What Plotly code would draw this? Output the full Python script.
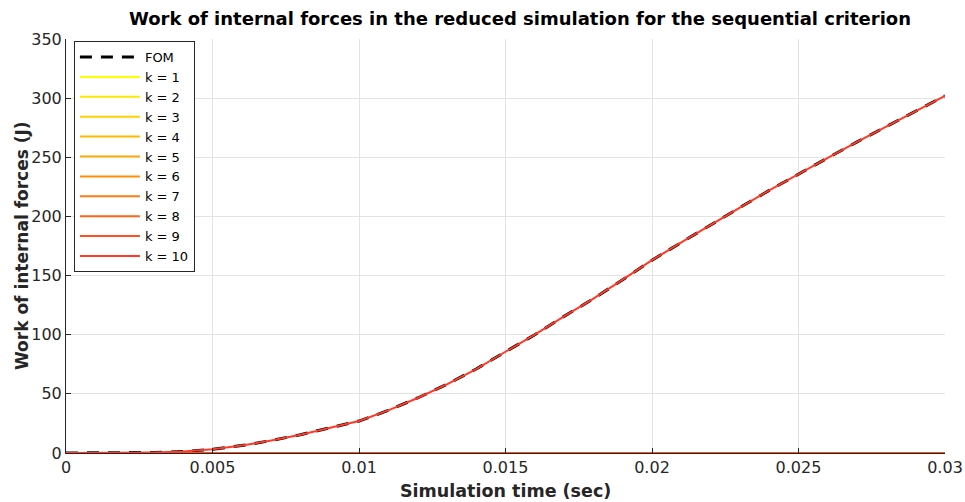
import plotly.graph_objects as go

# ---- data ----
time_s = [0.0, 0.001, 0.002, 0.003, 0.004, 0.005, 0.006, 0.007, 0.008, 0.009,
          0.010, 0.011, 0.012, 0.013, 0.014, 0.015, 0.016, 0.017, 0.018, 0.019,
          0.020, 0.021, 0.022, 0.023, 0.024, 0.025, 0.026, 0.027, 0.028, 0.029, 0.030]
fom_work = [0.0, 0.0, 0.1, 0.5, 1.2, 3.2, 6.3, 10.5, 15.5, 21.0,
            27.0, 36.0, 46.5, 58.0, 71.0, 85.6, 100.0, 115.5, 130.5, 146.5,
            163.0, 178.0, 193.0, 207.5, 222.0, 236.0, 249.5, 263.0, 276.0, 289.0, 302.0]

flat_time = [0.0, 0.03]
k1_work = [0.0, 0.0]
k2_work = [0.0, 0.0]
k3_work = [0.0, 0.0]
k4_work = [0.0, 0.0]
k5_work = [0.0, 0.0]
k6_work = [0.0, 0.0]
k7_work = [0.0, 0.0]
k8_work = [0.0, 0.0]
k9_work = [0.0, 0.0]
k10_work = [0.0, 0.0, 0.1, 0.5, 1.2, 3.2, 6.3, 10.5, 15.5, 21.0,
            27.0, 36.0, 46.5, 58.0, 71.0, 85.6, 100.0, 115.5, 130.5, 146.5,
            163.0, 178.0, 193.0, 207.5, 222.0, 236.0, 249.5, 263.0, 276.0, 289.0, 302.0]

k_labels = ["k = 1", "k = 2", "k = 3", "k = 4", "k = 5",
            "k = 6", "k = 7", "k = 8", "k = 9", "k = 10"]
k_colors = ["#FFFF00", "#FFE800", "#FFD000", "#FFBB00", "#FFA500",
            "#FF8F00", "#FF7A10", "#FF6418", "#FF4F20", "#FF3A28"]

x_ticks = [0, 0.005, 0.01, 0.015, 0.02, 0.025, 0.03]
x_ticklabels = ["0", "0.005", "0.01", "0.015", "0.02", "0.025", "0.03"]
y_ticks = [0, 50, 100, 150, 200, 250, 300, 350]

FONT = "DejaVu Sans"
TXT = "#262626"

fig = go.Figure()
fig.add_trace(go.Scatter(x=time_s, y=fom_work, mode="lines", name="FOM",
                         line=dict(color="black", width=3, dash="12px,9px")))

k_series = [(flat_time, k1_work), (flat_time, k2_work), (flat_time, k3_work),
            (flat_time, k4_work), (flat_time, k5_work), (flat_time, k6_work),
            (flat_time, k7_work), (flat_time, k8_work), (flat_time, k9_work),
            (time_s, k10_work)]
for (xs, ys), lab, col in zip(k_series, k_labels, k_colors):
    fig.add_trace(go.Scatter(x=xs, y=ys, mode="lines", name=lab,
                             line=dict(color=col, width=2)))

fig.update_layout(
    width=965, height=502,
    margin=dict(l=66, r=20, t=39, b=49, autoexpand=False),
    paper_bgcolor="white", plot_bgcolor="white",
    font=dict(family=FONT, size=15, color=TXT),
    title=dict(text="<b>Work of internal forces in the reduced simulation for the sequential criterion</b>",
               x=(520 / 965), xref="container", xanchor="center", y=0.962, yanchor="middle",
               font=dict(family=FONT, size=18, color="black")),
    showlegend=True,
    legend=dict(x=0.009, y=0.995, xanchor="left", yanchor="top",
                bordercolor=TXT, borderwidth=1, bgcolor="white",
                font=dict(family=FONT, size=13, color="black"),
                tracegroupgap=0, itemwidth=60),
    xaxis=dict(range=[0, 0.03], tickvals=x_ticks, ticktext=x_ticklabels,
               automargin=False,
               showgrid=True, gridcolor="#e3e3e3", gridwidth=1,
               showline=True, linecolor=TXT, linewidth=1,
               ticks="inside", ticklen=5, tickcolor=TXT, zeroline=False,
               tickfont=dict(family=FONT, size=16, color=TXT)),
    yaxis=dict(range=[0, 350], tickvals=y_ticks,
               automargin=False,
               showgrid=True, gridcolor="#e3e3e3", gridwidth=1,
               showline=True, linecolor=TXT, linewidth=1,
               ticks="inside", ticklen=5, tickcolor=TXT, zeroline=False,
               tickfont=dict(family=FONT, size=16, color=TXT)),
    annotations=[
        dict(text="<b>Simulation time (sec)</b>", xref="paper", yref="paper",
             x=0.5, y=-0.092, xanchor="center", yanchor="middle", showarrow=False,
             font=dict(family=FONT, size=17.5, color=TXT)),
        dict(text="<b>Work of internal forces (J)</b>", xref="paper", yref="paper",
             x=-0.05, y=0.5, xanchor="center", yanchor="middle", showarrow=False,
             textangle=-90, font=dict(family=FONT, size=17, color=TXT)),
    ],
)

fig.write_html("out.html", config={"displayModeBar": False},
               post_script="document.body.style.margin='0px';document.body.style.overflow='hidden';")
